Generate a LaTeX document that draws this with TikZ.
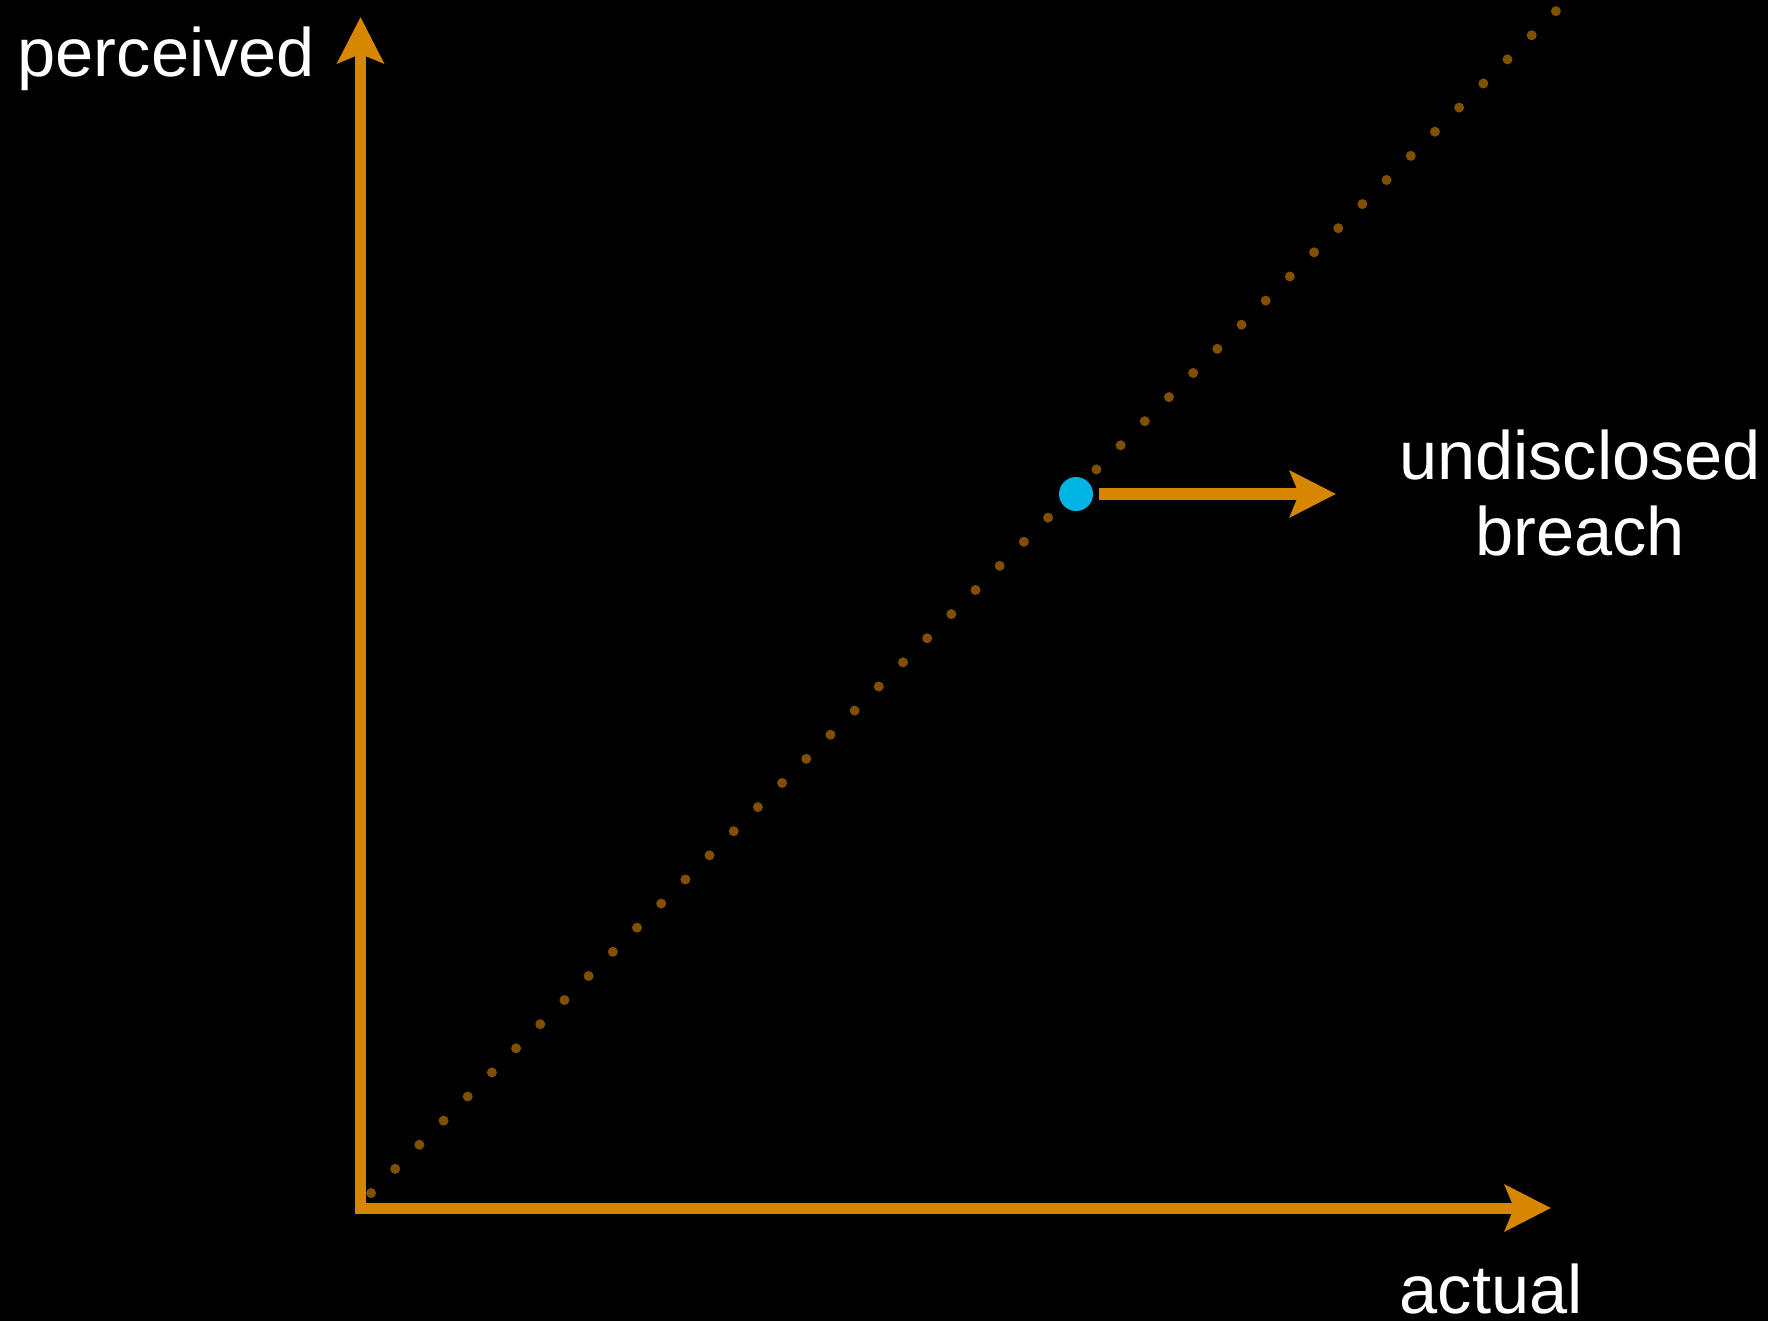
\documentclass[tikz,border=0pt]{standalone}
\usepackage{fontspec}
\setmainfont{Liberation Sans}
\usetikzlibrary{arrows.meta}
\definecolor{axisorange}{RGB}{214,134,0}
\definecolor{dotbrown}{RGB}{128,80,0}
\definecolor{breachblue}{RGB}{0,180,228}
\begin{document}
\begin{tikzpicture}[x=1cm,y=1cm,
  axis/.style={line width=0.11cm,color=axisorange,-{Stealth[length=0.46cm,width=0.46cm,inset=0.09cm]}},
  lbl/.style={text=white,font=\fontsize{19.5}{21.6}\selectfont,inner sep=0pt}]
\useasboundingbox (0,0) rectangle (17.68,13.21);
\fill[black] (0,0) rectangle (17.68,13.21);
\coordinate (origin) at (3.605,1.13);
\coordinate (ytip) at (3.605,13.04);
\coordinate (xtip) at (15.51,1.13);
\foreach \i in {0,...,49}
  \fill[dotbrown] ({3.71+0.2418*\i},{1.28+0.2412*\i}) circle (0.05);
\draw[axis] ([yshift=-0.05cm]origin) -- (ytip);
\draw[axis] ([xshift=-0.055cm]origin) -- (xtip);
\node[circle,fill=breachblue,minimum size=0.34cm,inner sep=0pt,outer sep=0.06cm] (breach) at (10.76,8.27) {};
\coordinate (breachtip) at (13.36,8.27);
\draw[axis,line width=0.12cm] (breach) -- (breachtip);
\node[lbl,anchor=base west] (perceived) at (0.17,12.44) {perceived};
\node[lbl,anchor=base west] (actual) at (13.99,0.08) {actual};
\node[lbl,align=center,anchor=base] (undisclosed) at (15.80,7.66) {undisclosed\\breach};
\end{tikzpicture}
\end{document}
